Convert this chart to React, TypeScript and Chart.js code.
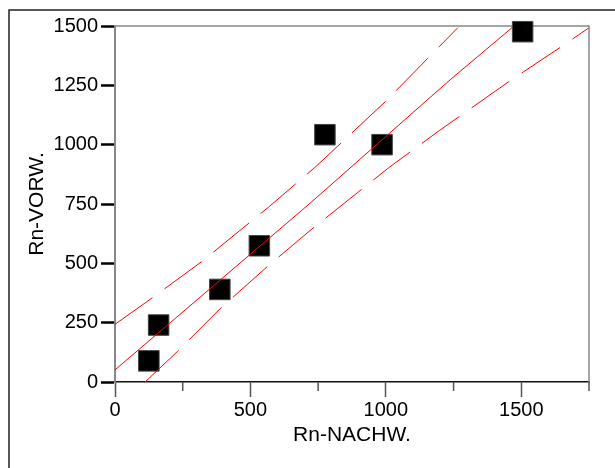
import React, { useEffect, useRef } from "react";
import { Chart, registerables } from "chart.js";

Chart.register(...registerables);

// Measured points (Rn-NACHW. vs Rn-VORW.)
const pointX = [125, 161, 387, 533, 775, 986, 1505];
const pointY = [89, 240, 390, 574, 1042, 1000, 1476];

// Regression line
const fitX = [0, 720, 1237, 1470];
const fitY = [51, 753, 1273, 1497];

// Upper confidence band
const upperX = [0, 138, 320, 566, 739, 997, 1155, 1266];
const upperY = [243, 355, 507, 736, 905, 1180, 1364, 1493];

// Lower confidence band
const lowerX = [111, 230, 390, 566, 720, 1013, 1197, 1457, 1644, 1748];
const lowerY = [0, 128, 311, 490, 638, 905, 1059, 1268, 1410, 1491];

const xLabelValues = [0, 500, 1000, 1500];
const xTitle = "Rn-NACHW.";
const yTitle = "Rn-VORW.";

const FONT = "'Liberation Sans', Arial, sans-serif";

const zip = (xs: number[], ys: number[]) => xs.map((x, i) => ({ x, y: ys[i] }));

const framePlugin = {
  id: "framePlugin",
  beforeDatasetsDraw(chart: any) {
    const { ctx, chartArea } = chart;
    const { left, top, right, bottom } = chartArea;
    ctx.save();
    // outer frame
    ctx.strokeStyle = "#222";
    ctx.lineWidth = 1.5;
    ctx.beginPath();
    ctx.moveTo(9, chart.height + 2);
    ctx.lineTo(9, 10);
    ctx.lineTo(chart.width + 2, 10);
    ctx.stroke();
    // plot frame top / right
    ctx.strokeStyle = "#888";
    ctx.lineWidth = 1.5;
    ctx.beginPath();
    ctx.moveTo(left, top);
    ctx.lineTo(right, top);
    ctx.lineTo(right, bottom);
    ctx.stroke();
    // minor x ticks
    const xs = chart.scales.x;
    ctx.strokeStyle = "#555";
    ctx.lineWidth = 1.5;
    xs.ticks.forEach((t: any) => {
      if (!xLabelValues.includes(t.value)) {
        const px = xs.getPixelForValue(t.value);
        ctx.beginPath();
        ctx.moveTo(px, bottom);
        ctx.lineTo(px, bottom + 9);
        ctx.stroke();
      }
    });
    ctx.restore();
  },
};

export default function App() {
  const ref = useRef<HTMLCanvasElement | null>(null);
  useEffect(() => {
    if (!ref.current) return;
    const lineBase = {
      type: "line" as const,
      showLine: true,
      borderColor: "#ff0000",
      borderWidth: 1,
      pointRadius: 0,
      tension: 0,
      fill: false,
    };
    const chart = new Chart(ref.current, {
      type: "scatter",
      data: {
        datasets: [
          { ...lineBase, label: "fit", data: zip(fitX, fitY) },
          { ...lineBase, label: "upper", data: zip(upperX, upperY), borderDash: [46, 15] },
          { ...lineBase, label: "lower", data: zip(lowerX, lowerY), borderDash: [46, 15] },
          {
            label: "points",
            data: zip(pointX, pointY),
            pointStyle: "rect",
            pointRadius: 14.5,
            backgroundColor: "#000",
            borderColor: "#444",
            borderWidth: 1,
            clip: false as any,
          },
        ] as any,
      },
      options: {
        animation: false,
        responsive: false,
        devicePixelRatio: 1,
        layout: { padding: { left: 0, top: 26, right: 26, bottom: 0 } },
        plugins: { legend: { display: false }, tooltip: { enabled: false } },
        scales: {
          x: {
            type: "linear",
            min: 0,
            max: 1750,
            afterFit: (s: any) => {
              s.height = 86;
            },
            ticks: {
              stepSize: 250,
              padding: 1,
              color: "#000",
              font: { family: FONT, size: 20 },
              maxRotation: 0,
              autoSkip: false,
              callback: (v: any) => (xLabelValues.includes(Number(v)) ? String(v) : ""),
            },
            grid: {
              drawOnChartArea: false,
              drawTicks: true,
              tickLength: 15,
              tickWidth: 1.5,
              tickColor: (c: any) => (xLabelValues.includes(c.tick?.value) ? "#555" : "rgba(0,0,0,0)"),
            },
            border: { display: true, color: "#111", width: 1.5 },
            title: {
              display: true,
              text: xTitle,
              color: "#000",
              font: { family: FONT, size: 21 },
              padding: { top: 0, bottom: 20 },
            },
          },
          y: {
            type: "linear",
            min: 0,
            max: 1500,
            afterFit: (s: any) => {
              s.width = 115;
            },
            ticks: {
              stepSize: 250,
              padding: 3,
              color: "#000",
              font: { family: FONT, size: 20 },
              autoSkip: false,
              callback: (v: any) => String(v),
            },
            grid: {
              drawOnChartArea: false,
              drawTicks: true,
              tickLength: 14,
              tickWidth: 2.5,
              tickColor: "#000",
            },
            border: { display: true, color: "#888", width: 2 },
            title: {
              display: true,
              text: yTitle,
              color: "#000",
              font: { family: FONT, size: 21 },
              padding: { top: 25, bottom: 0 },
            },
          },
        },
      },
      plugins: [framePlugin],
    } as any);
    return () => chart.destroy();
  }, []);
  return (
    <canvas
      ref={ref}
      width={615}
      height={468}
      style={{ position: "fixed", left: 0, top: 0, width: 615, height: 468, display: "block" }}
    />
  );
}
